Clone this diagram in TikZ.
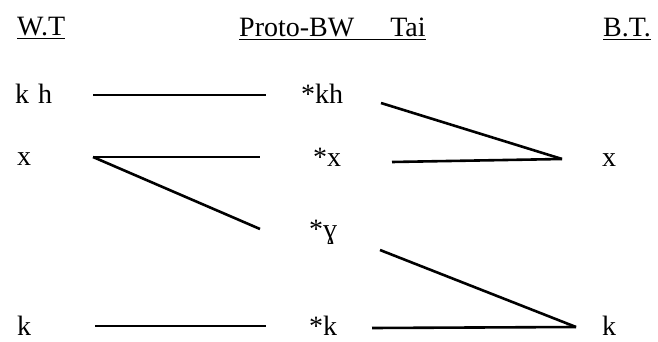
\documentclass[tikz,border=0pt]{standalone}
\usepackage{fontspec}
\setmainfont{Liberation Serif}
\begin{document}
\begin{tikzpicture}[x=1pt,y=-1pt,
  lbl/.style={inner sep=0pt,anchor=base west,font=\fontsize{28}{33}\selectfont},
  ln/.style={line width=2.6pt}]
\useasboundingbox (0,0) rectangle (658,342);
% headers
\node[lbl] (wt) at (17,36) {\underline{W.T}};
\node[lbl] (pr) at (239,37) {\underline{Proto-BW\hspace{36pt}Tai}};
\node[lbl] (bt) at (603,37) {\underline{B.T.}};
% left column
\node[lbl] (wkh) at (15,103) {k\hspace{9pt}h};
\node[lbl] (wx) at (17,165) {x};
\node[lbl] (wk) at (17,335) {k};
% middle column
\node[lbl] (pkh) at (301,103) {*kh};
\node[lbl] (px) at (313,166) {*x};
\node[lbl] (pg) at (309,238) {*ɣ};
\node[lbl] (pk) at (309,335) {*k};
% right column
\node[lbl] (bx) at (602,166) {x};
\node[lbl] (bk) at (602,335) {k};
% connector points
\coordinate (a1) at (93,95);
\coordinate (a2) at (266,95);
\coordinate (b1) at (93,157);
\coordinate (b2) at (260,157);
\coordinate (c2) at (260,229);
\coordinate (d1) at (381,103);
\coordinate (dx) at (562,159);
\coordinate (e1) at (392,162);
\coordinate (f1) at (380,250);
\coordinate (dk) at (576,327);
\coordinate (g1) at (95,326);
\coordinate (g2) at (266,326);
\coordinate (h1) at (372,328);
% lines
\draw[ln] (a1) -- (a2);
\draw[ln] (b1) -- (b2);
\draw[ln] (b1) -- (c2);
\draw[ln] (d1) -- (dx);
\draw[ln] (e1) -- (dx);
\draw[ln] (f1) -- (dk);
\draw[ln] (g1) -- (g2);
\draw[ln] (h1) -- (dk);
\end{tikzpicture}
\end{document}
